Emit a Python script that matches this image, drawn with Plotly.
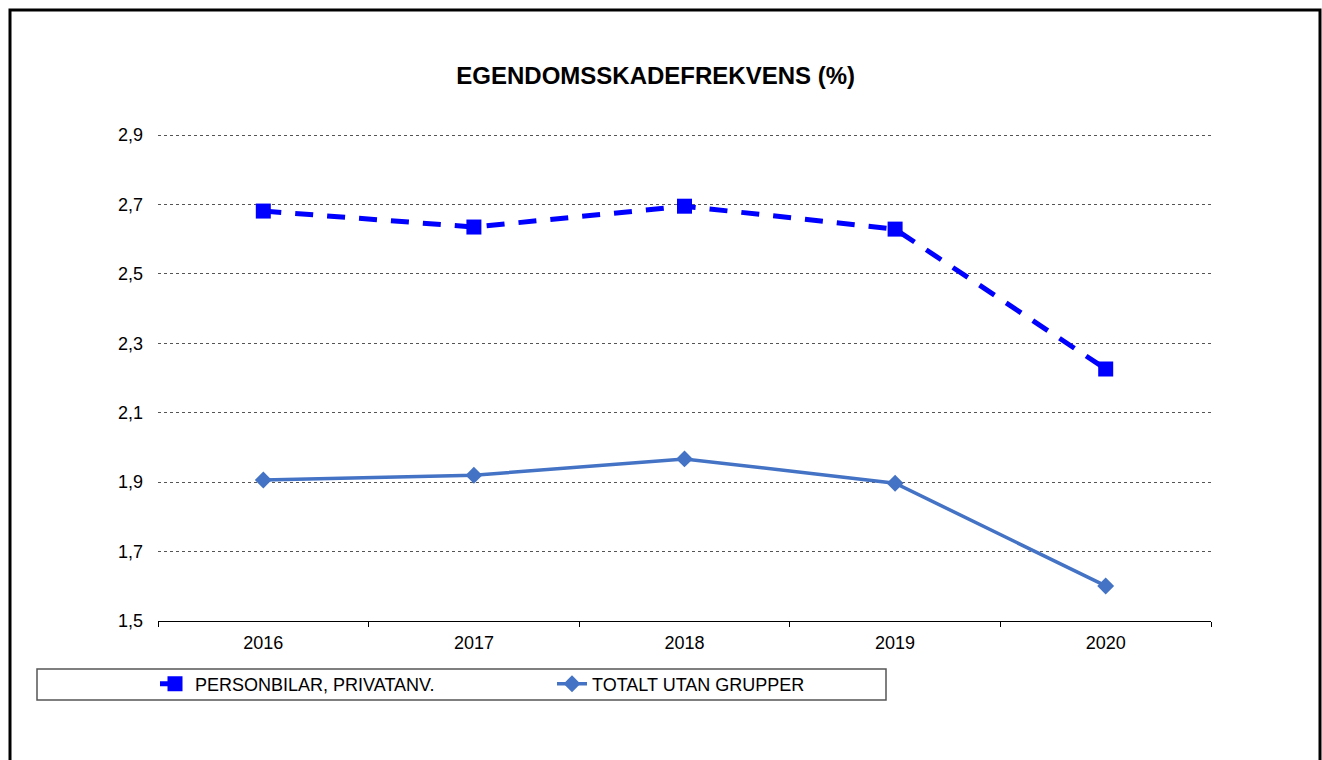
import plotly.graph_objects as go

years = ["2016", "2017", "2018", "2019", "2020"]
personbilar = [2.681, 2.635, 2.695, 2.629, 2.226]
totalt = [1.906, 1.920, 1.967, 1.897, 1.601]
series_names = ["PERSONBILAR, PRIVATANV.", "TOTALT UTAN GRUPPER"]
title_text = "EGENDOMSSKADEFREKVENS (%)"

W, H = 1322, 760
L, R, T, B = 158, 1211, 134, 621
pw, ph = R - L, B - T

def px_x(x):
    return (x - L) / pw

def px_y(y):
    return (B - y) / ph

fig = go.Figure()
fig.add_trace(go.Scatter(
    x=years, y=personbilar, name=series_names[0], mode="lines+markers",
    line=dict(color="#0000FF", width=5, dash="18px,14px"),
    marker=dict(symbol="square", size=15, color="#0000FF"),
))
fig.add_trace(go.Scatter(
    x=years, y=totalt, name=series_names[1], mode="lines+markers",
    line=dict(color="#4472C4", width=3.5),
    marker=dict(symbol="diamond", size=13, color="#4472C4"),
))

font = "Liberation Sans, Arial, sans-serif"
fig.update_layout(
    width=W, height=H,
    margin=dict(l=L, r=W - R, t=T, b=H - B, autoexpand=False),
    paper_bgcolor="white", plot_bgcolor="white",
    separators=",.",
    font=dict(family=font, size=18, color="black"),
    title=dict(text="<b>" + title_text + "</b>", x=0.496, xref="container", xanchor="center",
               y=1 - 76 / H, yref="container", yanchor="middle",
               font=dict(size=24, family=font, color="black")),
    showlegend=True,
    legend=dict(orientation="h", x=px_x(155), xanchor="left", y=px_y(684), yanchor="middle",
                bgcolor="rgba(0,0,0,0)", borderwidth=0, entrywidth=352, entrywidthmode="pixels",
                font=dict(size=18, family=font, color="black"), itemclick=False),
    xaxis=dict(type="category", range=[-0.5, 4.5], showgrid=False, showline=True,
               linecolor="black", linewidth=1, ticks="outside", ticklen=5, tickcolor="black",
               tickson="boundaries", ticklabelstandoff=5, zeroline=False,
               tickfont=dict(size=18, family=font, color="black")),
    yaxis=dict(range=[1.5, 2.903], dtick=0.2, tick0=1.5, tickformat=".1f", showgrid=True,
               gridcolor="#555555", gridwidth=1, griddash="dot", showline=False, ticks="",
               zeroline=False, ticklabelstandoff=14,
               tickfont=dict(size=18, family=font, color="black")),
    shapes=[
        dict(type="rect", xref="paper", yref="paper",
             x0=px_x(10), x1=px_x(1320), y0=px_y(10), y1=px_y(800),
             line=dict(color="black", width=3), fillcolor="rgba(0,0,0,0)", layer="above"),
        dict(type="rect", xref="paper", yref="paper",
             x0=px_x(37), x1=px_x(886), y0=px_y(669), y1=px_y(700),
             line=dict(color="#555555", width=1.5), fillcolor="rgba(0,0,0,0)", layer="above"),
    ],
)

fig.write_html("out.html", config={"displayModeBar": False},
               post_script="document.body.style.margin='0';document.body.style.overflow='hidden';")
